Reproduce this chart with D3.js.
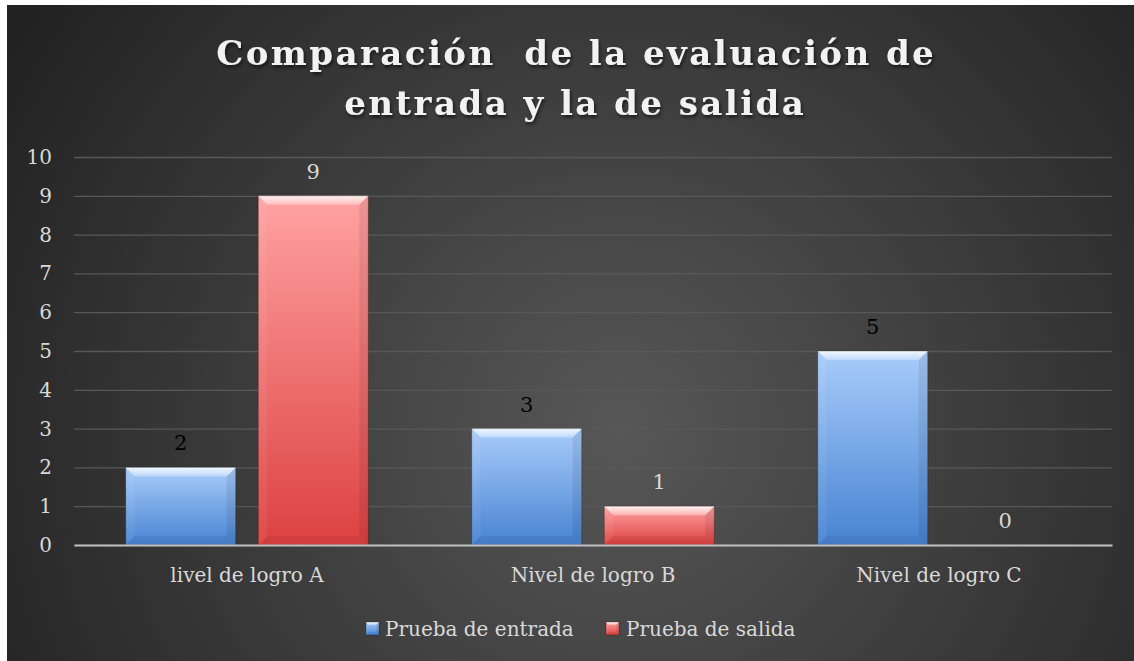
<!DOCTYPE html>
<html>
<head>
<meta charset="utf-8">
<script src="https://cdn.jsdelivr.net/npm/d3@7"></script>
<style>
  html, body { margin: 0; padding: 0; background: #ffffff; }
  svg { display: block; }
</style>
</head>
<body>
<svg id="chart" width="1134" height="661"></svg>
<script>
// ---------- DATA ----------
const categories = ["livel de logro A", "Nivel de logro B", "Nivel de logro C"];
const seriesNames = ["Prueba de entrada", "Prueba de salida"];
const entradaValues = [2, 3, 5];
const salidaValues = [9, 1, 0];
const yTickValues = [0, 1, 2, 3, 4, 5, 6, 7, 8, 9, 10];
const titleLines = ["Comparación  de la evaluación de", "entrada y la de salida"];

// ---------- LAYOUT ----------
const W = 1134, H = 661;
const frame = { x: 7, y: 5 };
const plot = { left: 74, right: 1112, top: 157, bottom: 545 };
const serifFont = "'DejaVu Serif', 'Liberation Serif', serif";

const svg = d3.select("#chart");
const defs = svg.append("defs");

// background gradient
const bg = defs.append("radialGradient").attr("id", "bgGrad")
  .attr("gradientUnits", "userSpaceOnUse")
  .attr("cx", 620).attr("cy", 430).attr("r", 720);
bg.append("stop").attr("offset", "0").attr("stop-color", "#575757");
bg.append("stop").attr("offset", "0.55").attr("stop-color", "#3a3a3a");
bg.append("stop").attr("offset", "1").attr("stop-color", "#222222");

svg.append("rect").attr("x", frame.x).attr("y", frame.y)
  .attr("width", W - frame.x).attr("height", H - frame.y)
  .attr("fill", "url(#bgGrad)");

// bar gradients
const colorDefs = [
  { id: "blueGrad", top: "#a9ccfa", bottom: "#4783d2" },
  { id: "redGrad", top: "#ffa2a2", bottom: "#dd4141" }
];
colorDefs.forEach(c => {
  const g = defs.append("linearGradient").attr("id", c.id)
    .attr("x1", 0).attr("y1", 0).attr("x2", 0).attr("y2", 1);
  g.append("stop").attr("offset", "0").attr("stop-color", c.top);
  g.append("stop").attr("offset", "1").attr("stop-color", c.bottom);
});
const hl = defs.append("linearGradient").attr("id", "hlGrad")
  .attr("x1", 0).attr("y1", 0).attr("x2", 0).attr("y2", 1);
hl.append("stop").attr("offset", "0").attr("stop-color", "#ffffff").attr("stop-opacity", 0.85);
hl.append("stop").attr("offset", "1").attr("stop-color", "#ffffff").attr("stop-opacity", 0.3);

const shadow = defs.append("filter").attr("id", "txtShadow")
  .attr("x", "-10%").attr("y", "-30%").attr("width", "120%").attr("height", "160%");
shadow.append("feDropShadow").attr("dx", 1.5).attr("dy", 2.5).attr("stdDeviation", 1.8)
  .attr("flood-color", "#000").attr("flood-opacity", 0.55);

// ---------- SCALES ----------
const x0 = d3.scaleBand().domain(categories).range([plot.left, plot.right])
  .paddingInner(0).paddingOuter(0);
const x1 = d3.scaleBand().domain(seriesNames).range([0, x0.bandwidth()])
  .paddingInner(0.17).paddingOuter(0.39);
const y = d3.scaleLinear().domain([0, 10]).range([plot.bottom, plot.top]);

// ---------- GRID ----------
const grid = svg.append("g").attr("transform", `translate(${plot.left},0)`)
  .call(d3.axisLeft(y).tickValues(yTickValues).tickSize(-(plot.right - plot.left)).tickFormat(""));
grid.select(".domain").remove();
grid.selectAll("line").attr("stroke", "#585858").attr("stroke-width", 1.3);

const yAxis = svg.append("g").attr("transform", `translate(${plot.left},0)`)
  .call(d3.axisLeft(y).tickValues(yTickValues).tickSize(0).tickPadding(22));
yAxis.select(".domain").remove();
yAxis.selectAll("text").attr("fill", "#d9d9d9").style("font-family", serifFont)
  .style("font-size", "20px");

// ---------- BARS ----------
const series = [
  { name: seriesNames[0], values: entradaValues, fill: "url(#blueGrad)", label: "#000000" },
  { name: seriesNames[1], values: salidaValues, fill: "url(#redGrad)", label: "#d9d9d9" }
];

function drawBevelBar(g, bx, by, bw, bh, fill, bevel) {
  if (bh <= 0) return;
  g.append("rect").attr("x", bx).attr("y", by).attr("width", bw).attr("height", bh)
    .attr("fill", fill);
  const b = Math.min(bevel, bh / 2, bw / 2);
  const poly = (pts, f, o) => g.append("polygon")
    .attr("points", pts.map(p => p.join(",")).join(" "))
    .attr("fill", f).attr("fill-opacity", o);
  poly([[bx, by], [bx + bw, by], [bx + bw - b, by + b], [bx + b, by + b]], "url(#hlGrad)", 1);
  poly([[bx, by], [bx + b, by + b], [bx + b, by + bh - b], [bx, by + bh]], "#ffffff", 0.06);
  poly([[bx + bw, by], [bx + bw, by + bh], [bx + bw - b, by + bh - b], [bx + bw - b, by + b]], "#000000", 0.08);
  poly([[bx, by + bh], [bx + b, by + bh - b], [bx + bw - b, by + bh - b], [bx + bw, by + bh]], "#000000", 0.06);
  g.append("rect").attr("x", bx).attr("y", by).attr("width", bw).attr("height", bh)
    .attr("fill", "none").attr("stroke", "#000").attr("stroke-opacity", 0.25).attr("stroke-width", 1);
}

const barsG = svg.append("g");
series.forEach(s => {
  categories.forEach((cat, i) => {
    const v = s.values[i];
    const bx = x0(cat) + x1(s.name);
    const bw = x1.bandwidth();
    const by = y(v);
    drawBevelBar(barsG, bx, by, bw, y(0) - by, s.fill, 9);
    barsG.append("text")
      .attr("x", bx + bw / 2).attr("y", by - 17)
      .attr("text-anchor", "middle")
      .attr("fill", s.label)
      .style("font-family", serifFont).style("font-size", "21px")
      .text(v);
  });
});

const xAxis = svg.append("g").attr("transform", `translate(0,${plot.bottom})`)
  .call(d3.axisBottom(x0).tickSize(0).tickPadding(23));
xAxis.select(".domain").attr("stroke", "#bfbfbf").attr("stroke-width", 2.2);
xAxis.selectAll("text").attr("fill", "#d9d9d9").style("font-family", serifFont)
  .style("font-size", "20px");

// ---------- TITLE ----------
const titleTargets = [
  { cx: 575, baseline: 65 },
  { cx: 574, baseline: 115 }
];
const titleWidth0 = 720;
const titleNodes = titleLines.map((line, i) => svg.append("text")
  .attr("x", titleTargets[i].cx).attr("y", titleTargets[i].baseline)
  .attr("text-anchor", "middle")
  .attr("fill", "#f2f2f2")
  .attr("filter", "url(#txtShadow)")
  .style("font-family", "'DejaVu Serif', serif")
  .style("font-weight", "bold")
  .style("font-size", "34px")
  .style("white-space", "pre")
  .text(line));
const nat0 = titleNodes[0].node().getComputedTextLength();
const ls = Math.max(0, (titleWidth0 - nat0) / titleLines[0].length);
titleNodes.forEach((t, i) => {
  t.style("letter-spacing", ls + "px").attr("x", titleTargets[i].cx + ls / 2);
});

// ---------- LEGEND ----------
const legendItems = [
  { name: seriesNames[0], fill: "url(#blueGrad)", mx: 366, tx: 385 },
  { name: seriesNames[1], fill: "url(#redGrad)", mx: 606, tx: 626 }
];
const legendG = svg.append("g");
legendItems.forEach(it => {
  drawBevelBar(legendG, it.mx, 622, 13, 13, it.fill, 3);
  legendG.append("text").attr("x", it.tx).attr("y", 636)
    .attr("fill", "#d9d9d9")
    .style("font-family", serifFont).style("font-size", "20px")
    .text(it.name);
});
</script>
</body>
</html>
